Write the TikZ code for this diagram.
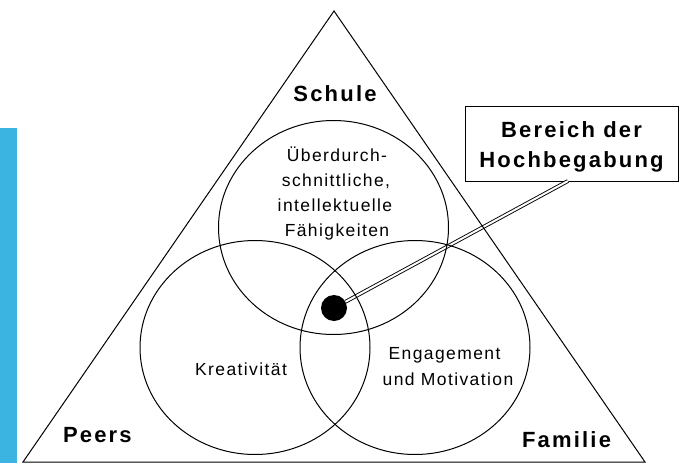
\documentclass[tikz,border=0pt]{standalone}
\usepackage{fontspec}
\setmainfont{Liberation Sans}
\newfontfamily\labfont[LetterSpace=8]{Liberation Sans}
\newfontfamily\boldlab[LetterSpace=10]{Liberation Sans}
\usetikzlibrary{shapes.geometric}
\definecolor{barblue}{RGB}{59,180,226}
\begin{document}
\begin{tikzpicture}[x=1pt,y=-1pt,
  every node/.style={inner sep=0pt, outer sep=0pt},
  ring/.style={ellipse, draw, line width=1pt, minimum width=230pt, minimum height=214pt},
  lbl/.style={anchor=base, font=\labfont\fontsize{17.5}{20}\selectfont},
  head/.style={anchor=base, font=\boldlab\bfseries\fontsize{22}{26}\selectfont},
  frame/.style={line width=1pt},
  pointer/.style={double=white, double distance=2pt, line width=0.9pt}
]
\useasboundingbox (0,0) rectangle (680,463);
\fill[barblue] (0,128) rectangle (17,463);

% dot and label box
\node[circle, fill=black, minimum size=26pt] (dot) at (334,308) {};
\node[draw, frame, minimum width=213pt, minimum height=75pt] (box) at (571.5,143.5) {};
\coordinate (lend) at (568,181);
\draw[pointer] (dot) -- (lend);

% circles
\node[ring] (schul) at (333.5,227.5) {};
\node[ring] (kreat) at (255,347.5) {};
\node[ring] (engag) at (415,347.5) {};

% triangle
\coordinate (apex) at (334,11);
\coordinate (bl) at (23,462);
\coordinate (br) at (645,462);
\draw[frame] (apex) -- (bl) -- (br) -- cycle;

% headings
\node[head] (schule) at (335,101) {Schule};
\node[head, anchor=base west] (peers) at (63,442) {Peers};
\node[head, anchor=base west] (familie) at (522,447) {Familie};
\node[head] (b1) at (571.5,137) {Bereich der};
\node[head] (b2) at (571.5,167) {Hochbegabung};

% circle texts
\node[lbl] (t1) at (337,161) {Überdurch-};
\node[lbl] (t2) at (336,186) {schnittliche,};
\node[lbl] (t3) at (335,211) {intellektuelle};
\node[lbl] (t4) at (337,236) {Fähigkeiten};
\node[lbl] (kr) at (241,375) {Kreativität};
\node[lbl] (e1) at (444.5,359) {Engagement};
\node[lbl] (e2) at (448,385) {und Motivation};
\end{tikzpicture}
\end{document}
